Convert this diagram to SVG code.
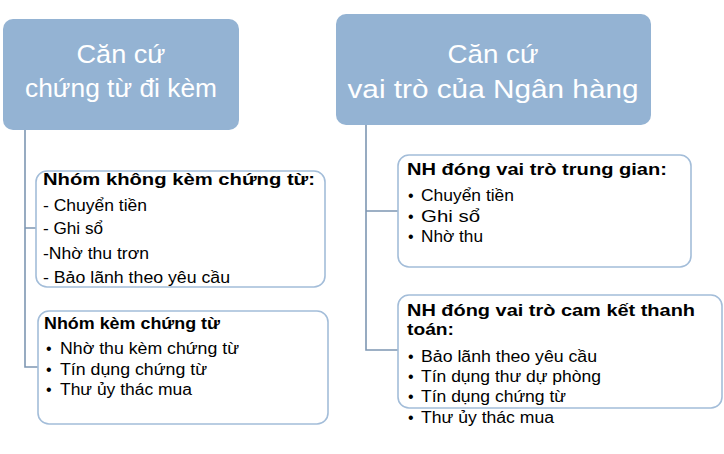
<svg xmlns="http://www.w3.org/2000/svg" width="724" height="454" viewBox="0 0 724 454">
<style>
.hdr{fill:#94B3D3;}
.box{fill:#FFFFFF;stroke:#A3BDD9;stroke-width:1.6;}
.conn{fill:none;stroke:#7E97B2;stroke-width:1.6;}
.h1{font-family:"Liberation Sans",Arial,sans-serif;font-size:25px;fill:#FFFFFF;text-anchor:middle;}
.h2{font-family:"Liberation Sans",Arial,sans-serif;font-size:26px;fill:#FFFFFF;text-anchor:middle;}
.t{font-family:"Liberation Sans",Arial,sans-serif;font-size:17px;font-weight:bold;fill:#000000;}
.b{font-family:"Liberation Sans",Arial,sans-serif;font-size:16px;fill:#000000;}
</style>
<rect width="724" height="454" fill="#FFFFFF"/>
<g id="connectors">
<path class="conn" d="M25,130 V367 H38 M25,228 H36"/>
<path class="conn" d="M366,125 V350 H398 M366,211 H398"/>
</g>
<g id="hdr-left">
<rect class="hdr" x="3" y="19" width="236" height="111" rx="10"/>
<text class="h1" x="121" y="63" textLength="89" lengthAdjust="spacingAndGlyphs">Căn cứ</text>
<text class="h1" x="121" y="97" textLength="192" lengthAdjust="spacingAndGlyphs">chứng từ đi kèm</text>
</g>
<g id="hdr-right">
<rect class="hdr" x="336" y="14" width="315" height="111" rx="10"/>
<text class="h2" x="493" y="63" textLength="91" lengthAdjust="spacingAndGlyphs">Căn cứ</text>
<text class="h2" x="493" y="98" textLength="291" lengthAdjust="spacingAndGlyphs">vai trò của Ngân hàng</text>
</g>
<g id="box-khong-kem">
<rect class="box" x="36" y="171" width="289" height="116" rx="11"/>
<text class="t" x="43" y="185" textLength="272" lengthAdjust="spacingAndGlyphs">Nhóm không kèm chứng từ:</text>
<text class="b" x="43" y="211" textLength="104" lengthAdjust="spacingAndGlyphs">- Chuyển tiền</text>
<text class="b" x="43" y="234" textLength="60" lengthAdjust="spacingAndGlyphs">- Ghi sổ</text>
<text class="b" x="43" y="259" textLength="106" lengthAdjust="spacingAndGlyphs">-Nhờ thu trơn</text>
<text class="b" x="43" y="283" textLength="187" lengthAdjust="spacingAndGlyphs">- Bảo lãnh theo yêu cầu</text>
</g>
<g id="box-kem">
<rect class="box" x="38" y="311" width="290" height="113" rx="11"/>
<text class="t" x="44" y="329" textLength="176" lengthAdjust="spacingAndGlyphs">Nhóm kèm chứng từ</text>
<text class="b" x="46" y="354">•</text>
<text class="b" x="60" y="354" textLength="179" lengthAdjust="spacingAndGlyphs">Nhờ thu kèm chứng từ</text>
<text class="b" x="46" y="375">•</text>
<text class="b" x="60" y="375" textLength="147" lengthAdjust="spacingAndGlyphs">Tín dụng chứng từ</text>
<text class="b" x="46" y="395">•</text>
<text class="b" x="60" y="395" textLength="132" lengthAdjust="spacingAndGlyphs">Thư ủy thác mua</text>
</g>
<g id="box-trung-gian">
<rect class="box" x="398" y="155" width="293" height="112" rx="11"/>
<text class="t" x="407" y="175" textLength="260" lengthAdjust="spacingAndGlyphs">NH đóng vai trò trung gian:</text>
<text class="b" x="408" y="201">•</text>
<text class="b" x="421" y="201" textLength="93" lengthAdjust="spacingAndGlyphs">Chuyển tiền</text>
<text class="b" x="408" y="222">•</text>
<text class="b" x="421" y="222" textLength="59" lengthAdjust="spacingAndGlyphs">Ghi sổ</text>
<text class="b" x="408" y="242">•</text>
<text class="b" x="421" y="242" textLength="62" lengthAdjust="spacingAndGlyphs">Nhờ thu</text>
</g>
<g id="box-cam-ket">
<rect class="box" x="398" y="295" width="324" height="113" rx="11"/>
<text class="t" x="407" y="316" textLength="288" lengthAdjust="spacingAndGlyphs">NH đóng vai trò cam kết thanh</text>
<text class="t" x="407" y="335" textLength="47" lengthAdjust="spacingAndGlyphs">toán:</text>
<text class="b" x="408" y="362">•</text>
<text class="b" x="421" y="362" textLength="176" lengthAdjust="spacingAndGlyphs">Bảo lãnh theo yêu cầu</text>
<text class="b" x="408" y="382">•</text>
<text class="b" x="421" y="382" textLength="180" lengthAdjust="spacingAndGlyphs">Tín dụng thư dự phòng</text>
<text class="b" x="408" y="402">•</text>
<text class="b" x="421" y="402" textLength="145" lengthAdjust="spacingAndGlyphs">Tín dụng chứng từ</text>
<text class="b" x="408" y="423">•</text>
<text class="b" x="421" y="423" textLength="133" lengthAdjust="spacingAndGlyphs">Thư ủy thác mua</text>
</g>
</svg>
